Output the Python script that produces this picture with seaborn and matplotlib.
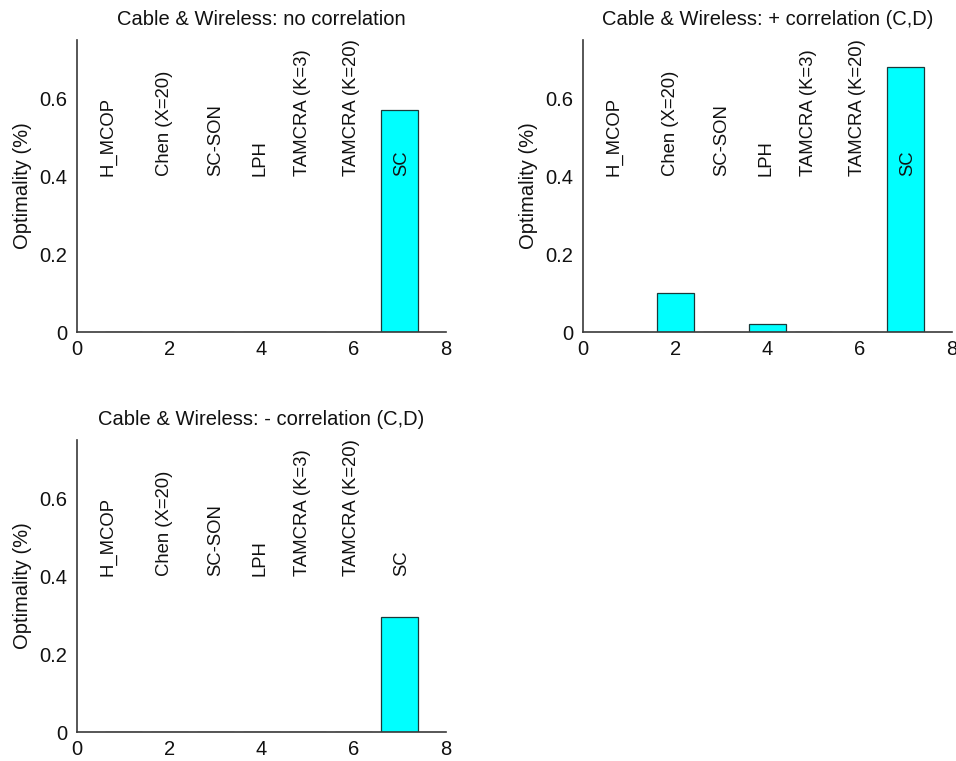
import matplotlib
matplotlib.use("Agg")
import matplotlib.pyplot as plt
import seaborn as sns
import pandas as pd

sns.set_style("white")
plt.rcParams['font.family'] = ['Liberation Sans', 'DejaVu Sans']

positions = [1, 2, 3, 4, 5, 6, 7]
methods = ["H_MCOP", "Chen (X=20)", "SC-SON", "LPH", "TAMCRA (K=3)", "TAMCRA (K=20)", "SC"]
titles = ["Cable & Wireless: no correlation",
          "Cable & Wireless: + correlation (C,D)",
          "Cable & Wireless: - correlation (C,D)"]
vals_none = [0.0, 0.0, 0.0, 0.0, 0.0, 0.0, 0.57]
vals_pos = [0.0, 0.10, 0.0, 0.02, 0.0, 0.0, 0.68]
vals_neg = [0.0, 0.0, 0.0, 0.0, 0.0, 0.0, 0.295]
xticks = [0, 2, 4, 6, 8]
yticks = [0, 0.2, 0.4, 0.6]
ylabel = "Optimality (%)"

label_dx = [-0.32, -0.11, 0.0, -0.03, -0.12, -0.04, 0.05]
label_y = 0.4

fig = plt.figure(figsize=(9.56, 7.61), dpi=100)
rects = [[0.0805, 0.5637, 0.386, 0.3837],
         [0.6098, 0.5637, 0.386, 0.3837],
         [0.0805, 0.0381, 0.386, 0.3837]]
series = [vals_none, vals_pos, vals_neg]

spine_col = "#3a3a3a"
text_col = "#111111"
for rect, vals, title in zip(rects, series, titles):
    ax = fig.add_axes(rect)
    df = pd.DataFrame({"pos": positions, "val": vals})
    sns.barplot(data=df, x="pos", y="val", native_scale=True, width=0.8,
                color="#00FFFF", saturation=1, edgecolor="#1a3a3a",
                linewidth=0.9, ax=ax, errorbar=None)
    ax.set_xlim(0, 8)
    ax.set_ylim(0, 0.75)
    ax.set_xticks(xticks)
    ax.set_xticklabels([str(t) for t in xticks])
    ax.set_yticks(yticks)
    ax.set_yticklabels(["0", "0.2", "0.4", "0.6"])
    ax.set_xlabel("")
    ax.set_ylabel(ylabel, fontsize=14.5, labelpad=5, color=text_col)
    ax.set_title(title, fontsize=14.5, pad=11, color=text_col)
    for s in ["top", "right"]:
        ax.spines[s].set_visible(False)
    for s in ["left", "bottom"]:
        ax.spines[s].set_color(spine_col)
        ax.spines[s].set_linewidth(1.2)
        ax.spines[s].set_zorder(5)
    ax.tick_params(direction="in", length=4, width=0.8, color=spine_col,
                   labelsize=14.5, labelcolor=text_col, pad=7)
    ax.tick_params(axis="x", pad=6)
    for p, m, dx in zip(positions, methods, label_dx):
        ax.text(p + dx, label_y, m, rotation=90, ha="center", va="bottom",
                fontsize=13.3, color=text_col, clip_on=False)

fig.savefig("out.png", dpi=100)
